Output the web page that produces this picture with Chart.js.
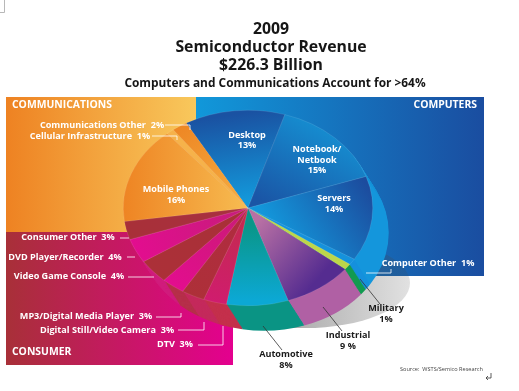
<!DOCTYPE html>
<html><head><meta charset="utf-8">
<style>html,body{margin:0;padding:0;background:#fff}canvas{display:block}</style>
<script src="https://cdn.jsdelivr.net/npm/chart.js@4"></script>
</head><body>
<canvas id="c" width="519" height="391"></canvas>
<script>
const categories = ['Mobile Phones','Cellular Infrastructure','Communications Other','Desktop','Notebook/Netbook','Servers','Computer Other','Military','Industrial','Automotive','DTV','Digital Still/Video Camera','MP3/Digital Media Player','Video Game Console','DVD Player/Recorder','Consumer Other'];
const revenueShare = [16,1,2,13,15,14,1,1,9,8,3,3,3,4,4,3];
const titleLines = ['2009','Semiconductor Revenue','$226.3 Billion'];
const subtitle = 'Computers and Communications Account for >64%';

const CX=248, CY=208, K=0.784, DX=16, DY=25, FONT='"Open Sans", sans-serif';
const canvas=document.getElementById('c'), g=canvas.getContext('2d');
// gradient in page coordinates, valid while the squash transform is active
function pg(x0,y0,x1,y1,c0,c1){
  const u=y=>CY+(y-CY)/K, gr=g.createLinearGradient(x0,u(y0),x1,u(y1));
  gr.addColorStop(0,c0);gr.addColorStop(1,c1);return gr;
}
function lg(x0,y0,x1,y1,c0,c1){const gr=g.createLinearGradient(x0,y0,x1,y1);gr.addColorStop(0,c0);gr.addColorStop(1,c1);return gr;}
const faceColors=[
  pg(123,0,250,0,'#ee8423','#f7bd52'),
  '#f6b24a',
  pg(180,130,240,200,'#ee8825','#f5ab40'),
  pg(230,115,250,200,'#1a52a2','#1398da'),
  pg(340,125,270,205,'#1592d4','#1a56a6'),
  pg(360,175,265,215,'#1c4c9e','#1396da'),
  '#1592dc',
  '#bdd64a',
  pg(255,225,330,265,'#b870a4','#552c90'),
  pg(240,225,240,300,'#0a9688','#0ca8d4'),
  pg(240,220,205,300,'#c42a50','#d01c6e'),
  pg(240,220,180,295,'#b02c40','#ad3038'),
  pg(240,220,160,285,'#cc1a78','#e40c90'),
  pg(240,220,140,270,'#a83038','#ac3038'),
  pg(240,220,127,250,'#c81c7c','#e40c90'),
  pg(240,220,123,240,'#a83040','#a83038')
];
const wallColors=['#e58a2a','#e58a2a','#e58a2a','#1a56a6','#1592d8',
  lg(0,170,0,265,'#1496dc','#1b4a9c'),'#1590dc',
  lg(0,255,0,285,'#129a50','#c4dc48'),
  lg(290,0,345,0,'#b060a4','#6c3492'),
  lg(0,300,0,327,'#0a9484','#0ea6d0'),
  '#c4304c','#c42a5c','#b62f4a','#d01b7c','#cf1e7a','#c8207a'];

const LS=9.1, HS=10.4;
const texts=[
 ['COMMUNICATIONS',12,105,'left',HS,'#fff'],['COMPUTERS',477,105,'right',HS,'#fff'],['CONSUMER',12,352,'left',HS,'#fff'],
 ['Communications Other  2%',102,125,'center',LS,'#fff'],['Cellular Infrastructure  1%',90,136,'center',LS,'#fff'],
 ['Desktop',247,135,'center',LS,'#fff'],['13%',247,145,'center',LS,'#fff'],
 ['Notebook/',317,149,'center',LS,'#fff'],['Netbook',317,160,'center',LS,'#fff'],['15%',317,170,'center',LS,'#fff'],
 ['Servers',334,198,'center',LS,'#fff'],['14%',334,209,'center',LS,'#fff'],
 ['Mobile Phones',176,189,'center',LS,'#fff'],['16%',176,200,'center',LS,'#fff'],
 ['Consumer Other  3%',68,237,'center',LS,'#fff'],['DVD Player/Recorder  4%',65,257,'center',LS,'#fff'],['Video Game Console  4%',69,276,'center',LS,'#fff'],
 ['MP3/Digital Media Player  3%',86,316,'center',LS,'#fff'],['Digital Still/Video Camera  3%',107,330,'center',LS,'#fff'],['DTV  3%',175,344,'center',LS,'#fff'],
 ['Computer Other  1%',428,263,'center',LS,'#fff'],
 ['Military',386,308,'center',LS,'#1a1a1a'],['1%',386,319,'center',LS,'#1a1a1a'],
 ['Industrial',348,335,'center',LS,'#1a1a1a'],['9 %',348,346,'center',LS,'#1a1a1a'],
 ['Automotive',286,354,'center',LS,'#1a1a1a'],['8%',286,365,'center',LS,'#1a1a1a']
];
const whiteLeaders=[[[165,125],[190,125],[190,130]],[[152,136],[177,136],[177,140]],[[120,238],[129,238]],[[127,257],[135,257]],[[128,277],[154,277]],
 [[156,317],[181,317],[181,313]],[[178,330],[204,330],[204,322]],[[198,345],[223,345],[223,326]],[[366,273],[391,273],[391,269]]];
const darkLeaders=[[[360,279],[380,304]],[[323,307],[342,331]],[[263,326],[282,350]]];

const backdrop={id:'backdrop',beforeDraw(c){
  const x=c.ctx;x.save();
  x.fillStyle='#fff';x.fillRect(0,0,519,391);
  x.strokeStyle='#b8b8b8';x.lineWidth=1;x.beginPath();x.moveTo(0,12.5);x.lineTo(4.5,12.5);x.lineTo(4.5,0);x.stroke();
  x.fillStyle=lg(6,0,196,0,'#ee8222','#f8c85c');x.fillRect(6,97,190,135);
  x.fillStyle=lg(196,0,484,0,'#1198da','#1a4da0');x.fillRect(196,97,288,179);
  x.fillStyle=lg(6,0,233,0,'#a83038','#e4008f');x.fillRect(6,232,227,133);
  // cast shadow
  x.fillStyle=lg(250,0,410,0,'rgba(70,70,70,.55)','rgba(70,70,70,.16)');
  x.beginPath();x.ellipse(305,283,105,45,0,0,Math.PI*2);x.fill();
  x.restore();
}};
const squash={id:'squash',
 beforeDatasetsDraw(c){
  const x=c.ctx,arcs=c.getDatasetMeta(0).data;x.save();
  const order=arcs.map((a,i)=>i);
  for(let s=28;s>=1;s--){
    const t=s/28;
    order.forEach(i=>{const a=arcs[i];
      x.save();x.fillStyle=wallColors[i];
      x.translate(a.x+DX*t,a.y+DY*t);x.scale(1,K);
      x.beginPath();x.moveTo(0,0);x.arc(0,0,a.outerRadius,a.startAngle,a.endAngle);x.closePath();x.fill();
      x.restore();});
  }
  x.translate(CX,CY);x.scale(1,K);x.translate(-CX,-CY);
 },
 afterDatasetsDraw(c){c.ctx.restore();}
};
const annotate={id:'annotate',afterDraw(c){
  const x=c.ctx;x.save();x.textBaseline='middle';
  x.lineWidth=.8;
  x.strokeStyle='#fff';whiteLeaders.forEach(l=>{x.beginPath();l.forEach((p,i)=>i?x.lineTo(p[0],p[1]):x.moveTo(p[0],p[1]));x.stroke();});
  x.strokeStyle='#333';darkLeaders.forEach(l=>{x.beginPath();l.forEach((p,i)=>i?x.lineTo(p[0],p[1]):x.moveTo(p[0],p[1]));x.stroke();});
  x.fillStyle='#161616';x.textAlign='center';
  x.font='bold 15.8px '+FONT;titleLines.forEach((t,i)=>x.fillText(t,271,29+18*i));
  x.font='bold 11.9px '+FONT;x.fillText(subtitle,275,84);
  texts.forEach(t=>{x.font='bold '+t[4]+'px '+FONT;x.textAlign=t[3];x.fillStyle=t[5];x.fillText(t[0],t[1],t[2]);});
  x.font='5.6px '+FONT;x.fillStyle='#444';x.textAlign='left';x.fillText('Source:  WSTS/Semico Research',400,369.5);
  x.strokeStyle='#333';x.lineWidth=.8;x.beginPath();x.moveTo(491,373);x.lineTo(491,378);x.lineTo(486,378);x.moveTo(488,376);x.lineTo(486,378);x.lineTo(488,380);x.stroke();
  x.restore();
}};
new Chart(canvas,{
  type:'pie',
  data:{labels:categories,datasets:[{data:revenueShare,backgroundColor:faceColors,borderColor:'rgba(255,255,255,.18)',borderWidth:.6,clip:false}]},
  options:{responsive:false,animation:false,rotation:262,
    layout:{padding:{left:0,right:23,top:83,bottom:58}},
    plugins:{legend:{display:false},tooltip:{enabled:false},title:{display:false}}},
  plugins:[backdrop,squash,annotate]
});
</script>
</body></html>
